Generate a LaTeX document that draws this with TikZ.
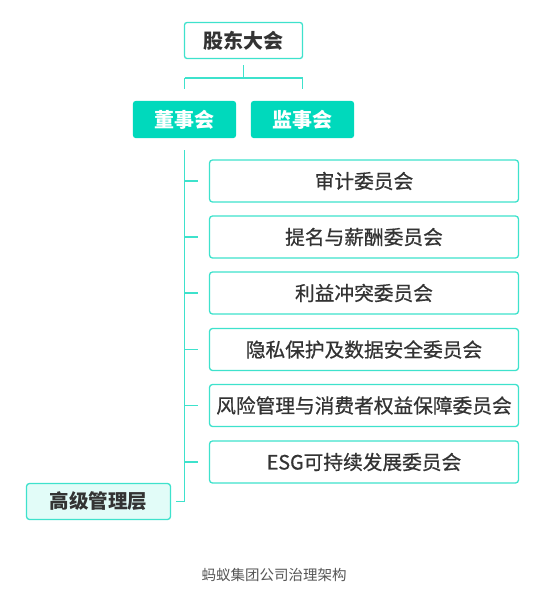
\documentclass[tikz,border=0pt]{standalone}
\usepackage{fontspec}
\setmainfont{Noto Sans CJK SC}
\newfontface\cmteFont{Noto Sans CJK SC}[FakeBold=0.7]
\usepackage{xcolor}
\usetikzlibrary{positioning}
\definecolor{tealLine}{RGB}{62,226,204}
\definecolor{tealFill}{RGB}{0,217,188}
\definecolor{paleFill}{RGB}{226,252,248}
\definecolor{txtGray}{RGB}{51,51,51}
\definecolor{capGray}{RGB}{85,85,85}
\tikzset{
    topBox/.style={draw=tealLine, fill=white, line width=1.3pt, rounded corners=2.5pt, minimum width=118pt, minimum height=36pt, inner sep=0pt, text=txtGray, font=\fontsize{20}{24}\selectfont\bfseries},
    boardBox/.style={draw=tealFill, fill=tealFill, line width=1.3pt, rounded corners=2.5pt, minimum width=102pt, minimum height=36pt, inner sep=0pt, text=white, font=\fontsize{20}{24}\selectfont\bfseries},
    cmteBox/.style={draw=tealLine, fill=white, line width=1.3pt, rounded corners=3pt, minimum width=309pt, minimum height=42pt, inner sep=0pt, text=txtGray, font=\fontsize{19.7}{23}\cmteFont},
    mgmtBox/.style={draw=tealLine, fill=paleFill, line width=1.3pt, rounded corners=3pt, minimum width=144pt, minimum height=36pt, inner sep=0pt, text=txtGray, font=\fontsize{19.5}{23}\selectfont\bfseries},
    linkLine/.style={draw=tealLine, line width=1.5pt}
}

\begin{document}
\begin{tikzpicture}[x=1pt, y=-1pt]
    \useasboundingbox (0,0) rectangle (548,606);
    \node[topBox] (Meeting) at (243.5,40.5) {股东大会};
    \node[boardBox] (Board) at (184.5,119.5) {董事会};
    \node[boardBox] (Supervisors) at (302.5,119.5) {监事会};
    \coordinate (split) at (243.5,78);
    \draw[linkLine, shorten <=6pt] (Meeting.south) -- (split);
    \draw[linkLine] (Board.north |- split) -- (Supervisors.north |- split);
    \draw[linkLine, shorten >=12pt] (Board.north |- split) -- (Board.north);
    \draw[linkLine, shorten >=12pt] (Supervisors.north |- split) -- (Supervisors.north);
    % committees
    \node[cmteBox] (Audit) at (364,181) {审计委员会};
    \node[cmteBox] (Nomination) at (364,237) {提名与薪酬委员会};
    \node[cmteBox] (Conflict) at (364,293) {利益冲突委员会};
    \node[cmteBox] (Privacy) at (364,349.5) {隐私保护及数据安全委员会};
    \node[cmteBox] (Risk) at (364,405.5) {风险管理与消费者权益保障委员会};
    \node[cmteBox] (Esg) at (364,462) {ESG可持续发展委员会};
    \node[mgmtBox] (Mgmt) at (98.5,501.5) {高级管理层};
    \draw[linkLine, shorten <=12pt, shorten >=5pt] (Board.south) -- (Board.south |- Mgmt.east) -- (Mgmt.east);
    \foreach \c in {Audit,Nomination,Conflict,Privacy,Risk,Esg}
        \draw[linkLine, shorten >=11pt] (Board.south |- \c.west) -- (\c.west);
    \node[text=capGray, font=\fontsize{14.5}{17}\selectfont] (Caption) at (274,575) {蚂蚁集团公司治理架构};
\end{tikzpicture}
\end{document}
